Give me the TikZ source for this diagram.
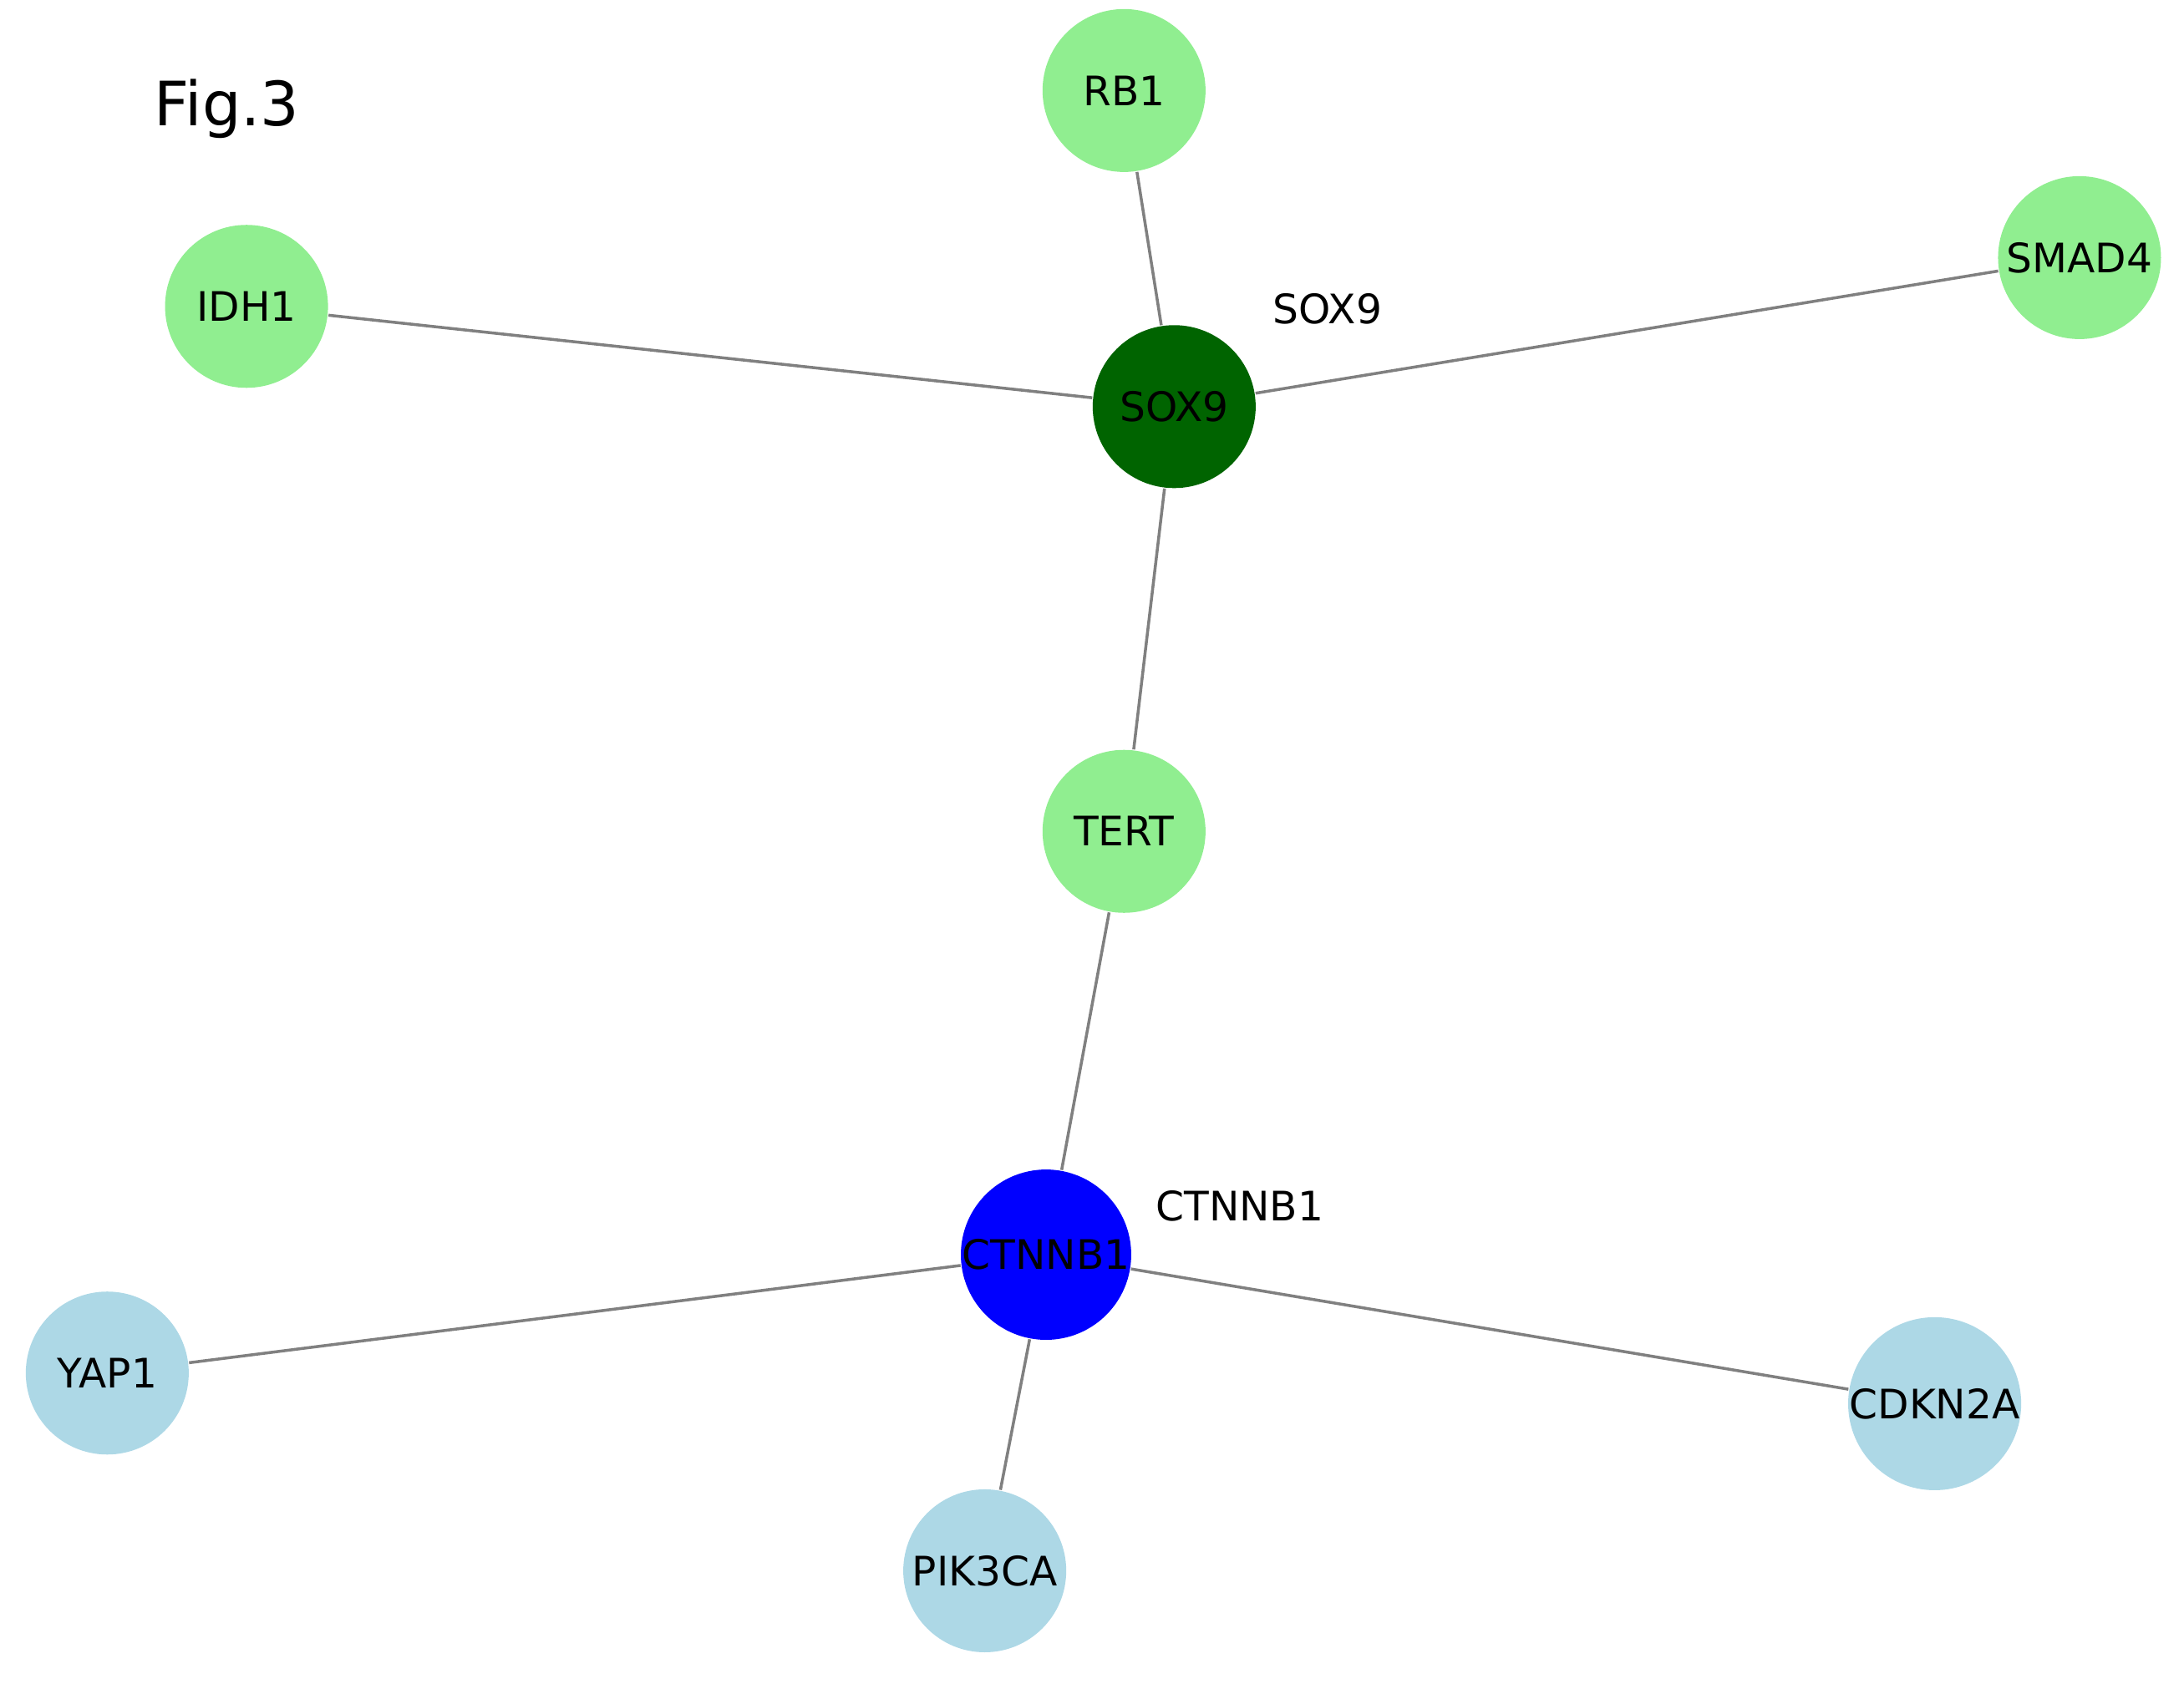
\documentclass[tikz,border=0pt]{standalone}
\usepackage{fontspec}
\setmainfont{DejaVu Sans}
\begin{document}
\begin{tikzpicture}[x=0.1mm,y=-0.1mm,
  gn/.style={circle,minimum size=11.7mm,inner sep=0pt,font=\fontsize{8.3}{10}\selectfont},
  lg/.style={gn,fill={rgb,255:red,144;green,238;blue,144}},
  lb/.style={gn,fill={rgb,255:red,173;green,216;blue,230}},
  ed/.style={draw={rgb,255:red,128;green,128;blue,128},line width=0.6pt}]
\useasboundingbox (0,0) rectangle (1568,1209);
\node[lg] (RB1) at (807,65) {RB1};
\node[lg] (IDH1) at (177,220) {IDH1};
\node[lg] (SMAD4) at (1493,185) {SMAD4};
\node[gn,fill={rgb,255:red,0;green,100;blue,0}] (SOX9) at (843,292) {SOX9};
\node[lg] (TERT) at (807,597) {TERT};
\node[gn,fill={rgb,255:red,0;green,0;blue,255}] (CTNNB1) at (751,901) {CTNNB1};
\node[lb] (YAP1) at (77,986) {YAP1};
\node[lb] (PIK3CA) at (707,1128) {PIK3CA};
\node[lb] (CDKN2A) at (1389,1008) {CDKN2A};
\begin{scope}[on background layer/.try]
\end{scope}
\foreach \a/\b in {SOX9/RB1,SOX9/IDH1,SOX9/SMAD4,SOX9/TERT,TERT/CTNNB1,CTNNB1/YAP1,CTNNB1/PIK3CA,CTNNB1/CDKN2A}
  \draw[ed] (\a) -- (\b);
\node[font=\fontsize{8.3}{10}\selectfont] (l1) at (953,222) {SOX9};
\node[font=\fontsize{8.3}{10}\selectfont] (l2) at (890,866) {CTNNB1};
\node[font=\fontsize{12.5}{15}\selectfont] (fig) at (163,78) {Fig.3};
\end{tikzpicture}
\end{document}
